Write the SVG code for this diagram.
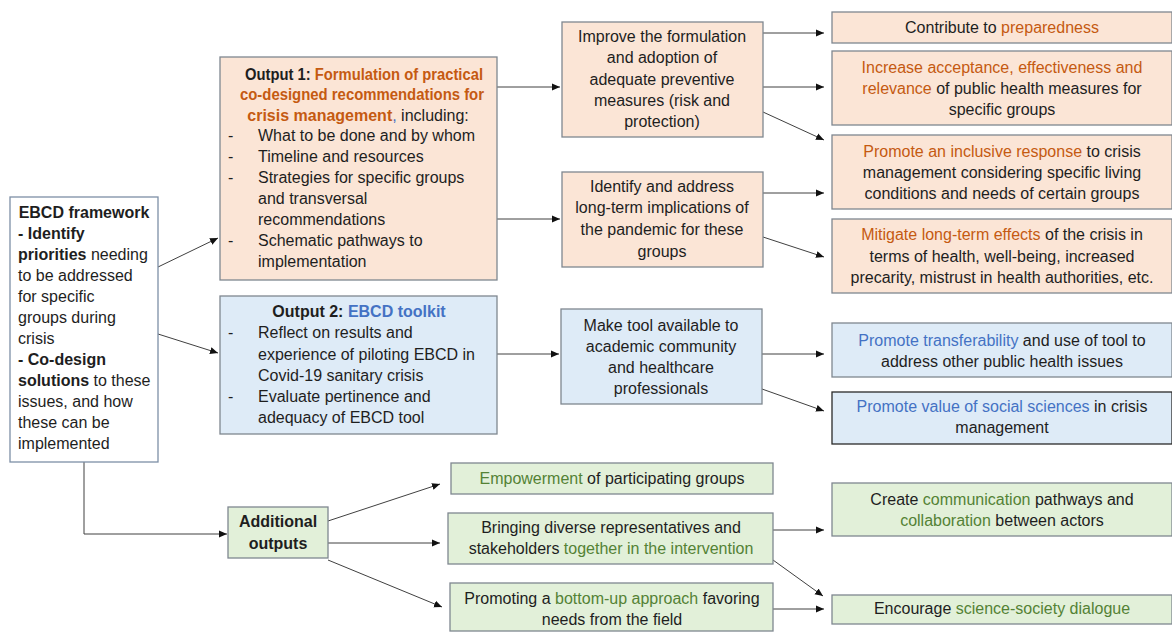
<svg xmlns="http://www.w3.org/2000/svg" width="1172" height="633" viewBox="0 0 1172 633">
<style>
text{font-family:"Liberation Sans",Arial,sans-serif;font-size:16px;fill:#1e1e1e}
.m{text-anchor:middle}
.b{font-weight:bold}
.o{fill:#C55A11}
.u{fill:#4472C4}
.g{fill:#548235}
.bo{fill:#FBE5D6;stroke:#7f8790;stroke-width:1.3}
.bb{fill:#DEEBF7;stroke:#7f8790;stroke-width:1.3}
.bg{fill:#E2F0D9;stroke:#7f8790;stroke-width:1.3}
.bw{fill:#ffffff;stroke:#7d8fa6;stroke-width:1.3}
.c{fill:none;stroke:#404040;stroke-width:1;marker-end:url(#ah)}
</style>
<defs>
<marker id="ah" markerUnits="userSpaceOnUse" markerWidth="9" markerHeight="8" refX="8" refY="4" orient="auto">
<path d="M0,0.5 L8,4 L0,7.5 z" fill="#111"/>
</marker>
</defs>
<rect width="1172" height="633" fill="#ffffff"/>

<g id="connectors">
<line class="c" x1="158" y1="267" x2="218" y2="238"/>
<line class="c" x1="158" y1="334" x2="218" y2="353"/>
<path class="c" d="M84,462 V534 H227"/>
<line class="c" x1="497" y1="87" x2="560" y2="87"/>
<line class="c" x1="497" y1="219" x2="560" y2="219"/>
<line class="c" x1="497" y1="354" x2="559" y2="354"/>
<line class="c" x1="763" y1="33" x2="824" y2="33"/>
<line class="c" x1="763" y1="87" x2="824" y2="87"/>
<line class="c" x1="763" y1="112" x2="824" y2="140"/>
<line class="c" x1="763" y1="193" x2="824" y2="193"/>
<line class="c" x1="763" y1="237" x2="824" y2="257"/>
<line class="c" x1="762" y1="354" x2="824" y2="354"/>
<line class="c" x1="762" y1="389" x2="824" y2="411"/>
<line class="c" x1="328" y1="521" x2="440" y2="484"/>
<line class="c" x1="328" y1="543" x2="440" y2="543"/>
<line class="c" x1="328" y1="560" x2="442" y2="607"/>
<line class="c" x1="773" y1="530" x2="824" y2="530"/>
<line class="c" x1="773" y1="560" x2="823" y2="596"/>
<line class="c" x1="773" y1="609" x2="824" y2="609"/>
</g>

<g id="ebcd">
<rect class="bw" x="10" y="197" width="148" height="265"/>
<text class="m b" x="84" y="218">EBCD framework</text>
<text x="18" y="239" class="b">- Identify</text>
<text x="18" y="260"><tspan class="b">priorities</tspan> needing</text>
<text x="18" y="281">to be addressed</text>
<text x="18" y="302">for specific</text>
<text x="18" y="323">groups during</text>
<text x="18" y="344">crisis</text>
<text x="18" y="365" class="b">- Co-design</text>
<text x="18" y="386"><tspan class="b">solutions</tspan> to these</text>
<text x="18" y="407">issues, and how</text>
<text x="18" y="428">these can be</text>
<text x="18" y="449">implemented</text>
</g>

<g id="output1">
<rect class="bo" x="220" y="57" width="277" height="223"/>
<text class="m b" x="364" y="80" textLength="238" lengthAdjust="spacingAndGlyphs">Output 1: <tspan class="o">Formulation of practical</tspan></text>
<text class="m b o" x="362" y="100" textLength="244" lengthAdjust="spacingAndGlyphs">co-designed recommendations for</text>
<text class="m" x="358" y="121"><tspan class="b o">crisis management</tspan><tspan class="u">,</tspan> including:</text>
<text x="228" y="141">-</text><text x="258" y="141">What to be done and by whom</text>
<text x="228" y="162">-</text><text x="258" y="162">Timeline and resources</text>
<text x="228" y="183">-</text><text x="258" y="183">Strategies for specific groups</text>
<text x="258" y="204">and transversal</text>
<text x="258" y="225">recommendations</text>
<text x="228" y="246">-</text><text x="258" y="246">Schematic pathways to</text>
<text x="258" y="267">implementation</text>
</g>

<g id="output2">
<rect class="bb" x="220" y="296" width="277" height="138"/>
<text class="m b" x="359" y="317">Output 2: <tspan class="u">EBCD toolkit</tspan></text>
<text x="228" y="338">-</text><text x="258" y="338">Reflect on results and</text>
<text x="258" y="360">experience of piloting EBCD in</text>
<text x="258" y="381">Covid-19 sanitary crisis</text>
<text x="228" y="402">-</text><text x="258" y="402">Evaluate pertinence and</text>
<text x="258" y="423">adequacy of EBCD tool</text>
</g>

<g id="improve">
<rect class="bo" x="562" y="22" width="201" height="115"/>
<text class="m" x="662" y="42">Improve the formulation</text>
<text class="m" x="662" y="63">and adoption of</text>
<text class="m" x="662" y="85">adequate preventive</text>
<text class="m" x="662" y="106">measures (risk and</text>
<text class="m" x="662" y="127">protection)</text>
</g>

<g id="identify">
<rect class="bo" x="562" y="172" width="201" height="95"/>
<text class="m" x="662" y="192">Identify and address</text>
<text class="m" x="662" y="213">long-term implications of</text>
<text class="m" x="662" y="235">the pandemic for these</text>
<text class="m" x="662" y="257">groups</text>
</g>

<g id="maketool">
<rect class="bb" x="561" y="309" width="201" height="95"/>
<text class="m" x="661" y="331">Make tool available to</text>
<text class="m" x="661" y="352">academic community</text>
<text class="m" x="661" y="373">and healthcare</text>
<text class="m" x="661" y="394">professionals</text>
</g>

<g id="contribute">
<rect class="bo" x="832" y="12" width="340" height="31"/>
<text class="m" x="1002" y="33">Contribute to <tspan class="o">preparedness</tspan></text>
</g>

<g id="increase">
<rect class="bo" x="832" y="51" width="340" height="74"/>
<text class="m o" x="1002" y="73">Increase acceptance, effectiveness and</text>
<text class="m" x="1002" y="94"><tspan class="o">relevance</tspan> of public health measures for</text>
<text class="m" x="1002" y="115">specific groups</text>
</g>

<g id="inclusive">
<rect class="bo" x="832" y="135" width="340" height="74"/>
<text class="m" x="1002" y="157"><tspan class="o">Promote an inclusive response</tspan> to crisis</text>
<text class="m" x="1002" y="178">management considering specific living</text>
<text class="m" x="1002" y="199">conditions and needs of certain groups</text>
</g>

<g id="mitigate">
<rect class="bo" x="832" y="219" width="340" height="74"/>
<text class="m" x="1002" y="240"><tspan class="o">Mitigate long-term effects</tspan> of the crisis in</text>
<text class="m" x="1002" y="262">terms of health, well-being, increased</text>
<text class="m" x="1002" y="283">precarity, mistrust in health authorities, etc.</text>
</g>

<g id="transferability">
<rect class="bb" x="832" y="323" width="340" height="54"/>
<text class="m" x="1002" y="346"><tspan class="u">Promote transferability</tspan> and use of tool to</text>
<text class="m" x="1002" y="367">address other public health issues</text>
</g>

<g id="socialsciences">
<rect class="bb" x="832" y="392" width="340" height="52" style="stroke:#2a2a2a"/>
<text class="m" x="1002" y="412"><tspan class="u">Promote value of social sciences</tspan> in crisis</text>
<text class="m" x="1002" y="433">management</text>
</g>

<g id="additional">
<rect class="bg" x="228" y="507" width="100" height="51"/>
<text class="m b" x="278" y="527">Additional</text>
<text class="m b" x="278" y="549">outputs</text>
</g>

<g id="empowerment">
<rect class="bg" x="451" y="463" width="322" height="31"/>
<text class="m" x="612" y="484"><tspan class="g">Empowerment</tspan> of participating groups</text>
</g>

<g id="bringing">
<rect class="bg" x="448" y="513" width="325" height="51"/>
<text class="m" x="611" y="533">Bringing diverse representatives and</text>
<text class="m" x="611" y="554">stakeholders <tspan class="g">together in the intervention</tspan></text>
</g>

<g id="promoting">
<rect class="bg" x="450" y="583" width="323" height="48"/>
<text class="m" x="612" y="604">Promoting a <tspan class="g">bottom-up approach</tspan> favoring</text>
<text class="m" x="612" y="625">needs from the field</text>
</g>

<g id="create">
<rect class="bg" x="832" y="483" width="340" height="53"/>
<text class="m" x="1002" y="505">Create <tspan class="g">communication</tspan> pathways and</text>
<text class="m" x="1002" y="526"><tspan class="g">collaboration</tspan> between actors</text>
</g>

<g id="encourage">
<rect class="bg" x="832" y="595" width="340" height="29"/>
<text class="m" x="1002" y="614">Encourage <tspan class="g">science-society dialogue</tspan></text>
</g>
</svg>
